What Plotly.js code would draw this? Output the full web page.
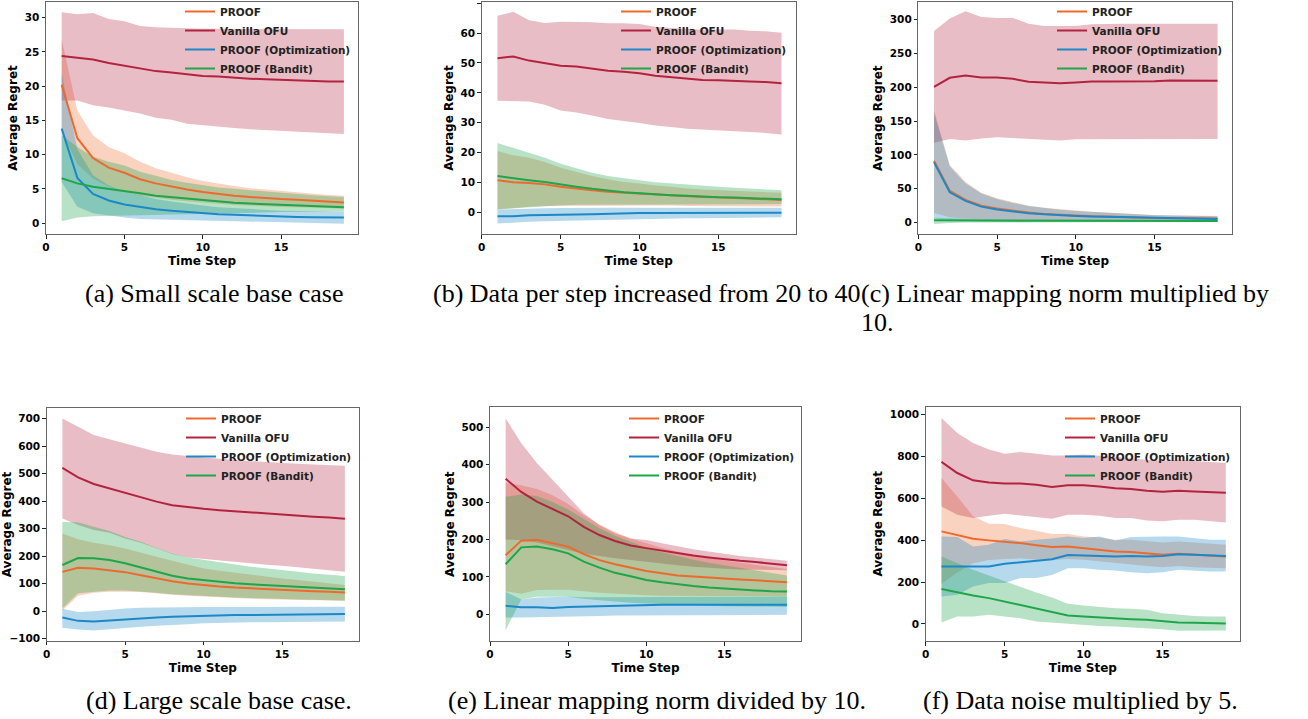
<!DOCTYPE html>
<html><head><meta charset="utf-8">
<script src="https://cdn.plot.ly/plotly-3.0.1.min.js"></script>
<style>html,body{margin:0;padding:0;background:#fff;}#chart{width:1308px;height:719px;}</style>
</head><body><div id="chart"></div>
<script>
const steps = [1,2,3,4,5,6,7,8,9,10,11,12,13,14,15,16,17,18,19];
const seriesNames = ['PROOF','Vanilla OFU','PROOF (Optimization)','PROOF (Bandit)'];
const xTicks = [0,5,10,15];

// (a) Small scale base case
const a_proof    = [20.2,12.4,9.5,8.1,7.35,6.4,5.8,5.3,4.9,4.55,4.25,4.0,3.8,3.6,3.5,3.4,3.3,3.15,3.0];
const a_proof_hi = [26.9,16.4,12.8,11.1,10.2,8.95,8.0,7.3,6.7,6.15,5.75,5.4,5.1,4.9,4.65,4.45,4.25,4.1,4.0];
const a_proof_lo = [13.5,8.6,6.5,5.3,4.6,4.0,3.7,3.4,3.2,3.0,2.8,2.65,2.55,2.4,2.35,2.3,2.3,2.2,2.1];
const a_ofu      = [24.4,24.2,23.9,23.4,23.0,22.5,22.2,22.0,21.7,21.5,21.4,21.2,21.1,21.0,20.9,20.85,20.75,20.7,20.7];
const a_ofu_hi   = [30.8,30.5,30.7,29.8,29.5,28.8,28.6,28.5,28.5,28.4,28.4,28.4,28.3,28.3,28.3,28.3,28.3,28.3,28.3];
const a_ofu_lo   = [17.9,17.9,17.2,16.9,16.5,16.0,15.4,15.1,14.5,14.4,14.1,13.9,13.7,13.5,13.4,13.3,13.2,13.1,13.0];
const a_opt      = [13.8,6.6,4.25,3.3,2.7,2.3,2.0,1.8,1.6,1.45,1.3,1.2,1.1,1.05,0.95,0.9,0.85,0.8,0.8];
const a_opt_hi   = [21.8,10.8,7.0,5.5,4.6,4.0,3.5,3.15,2.8,2.55,2.3,2.15,2.0,1.95,1.8,1.75,1.7,1.65,1.65];
const a_opt_lo   = [6.0,2.4,1.45,1.1,0.8,0.6,0.5,0.45,0.4,0.35,0.3,0.25,0.2,0.15,0.1,0.05,0.0,-0.05,-0.1];
const a_ban      = [6.55,5.8,5.3,5.0,4.75,4.35,4.0,3.8,3.5,3.3,3.15,2.95,2.85,2.75,2.6,2.5,2.4,2.35,2.3];
const a_ban_hi   = [12.8,11.1,9.7,8.95,8.4,7.5,6.9,6.3,5.9,5.55,5.2,5.0,4.8,4.6,4.35,4.2,4.05,3.9,3.8];
const a_ban_lo   = [0.25,0.8,1.0,1.05,1.1,1.15,1.2,1.25,1.3,1.35,1.4,1.45,1.5,1.55,1.6,1.6,1.65,1.7,1.7];

// (b) Data per step increased from 20 to 40
const b_proof    = [10.8,10.1,9.9,9.4,8.6,7.9,7.4,6.9,6.6,6.3,5.9,5.7,5.4,5.2,5.1,4.9,4.7,4.4,4.2];
const b_proof_hi = [20.6,19.1,18.3,16.9,15.0,13.6,12.2,11.1,10.2,9.7,9.0,8.6,8.0,7.7,7.4,7.2,7.0,6.8,6.6];
const b_proof_lo = [1.1,1.4,1.9,2.2,2.3,2.4,2.4,2.4,2.4,2.3,2.3,2.3,2.2,2.2,2.2,2.1,2.1,2.0,2.0];
const b_ofu      = [51.6,52.2,50.8,49.9,49.1,48.8,48.2,47.4,47.1,46.6,45.7,45.2,44.8,44.3,44.2,44.1,43.8,43.6,43.2];
const b_ofu_hi   = [65.8,67.1,64.3,63.4,63.8,63.8,63.6,63.3,63.3,63.0,62.1,61.7,61.3,61.1,61.2,61.2,60.8,60.6,60.1];
const b_ofu_lo   = [37.4,37.2,37.1,36.0,34.1,33.4,32.4,31.3,30.6,29.9,29.1,28.6,28.0,27.7,27.4,27.2,26.9,26.6,26.1];
const b_opt      = [-1.3,-1.3,-0.9,-0.9,-0.7,-0.7,-0.6,-0.4,-0.3,-0.2,-0.2,-0.2,-0.2,-0.2,-0.2,-0.2,-0.2,-0.2,-0.1];
const b_opt_hi   = [1.0,1.2,1.3,1.4,1.5,1.6,1.6,1.6,1.6,1.6,1.6,1.6,1.6,1.6,1.6,1.6,1.6,1.6,1.6];
const b_opt_lo   = [-3.7,-3.4,-3.1,-2.9,-2.8,-2.6,-2.4,-2.3,-2.2,-2.1,-2.0,-2.0,-1.9,-1.9,-1.8,-1.8,-1.7,-1.7,-1.6];
const b_ban      = [12.2,11.4,10.8,10.2,9.3,8.6,7.9,7.3,6.8,6.4,6.0,5.8,5.6,5.3,5.1,5.0,4.8,4.7,4.4];
const b_ban_hi   = [23.2,21.6,19.9,18.3,16.3,14.7,13.3,12.2,11.4,10.8,10.1,9.7,9.2,8.8,8.6,8.3,8.0,7.8,7.4];
const b_ban_lo   = [1.0,1.3,1.7,2.1,2.4,2.6,2.7,2.8,2.8,2.8,2.8,2.8,2.8,2.8,2.8,2.8,2.8,2.8,2.8];

// (c) Linear mapping norm multiplied by 10
const c_proof    = [91.5,46.7,33.4,25.1,20.7,17.2,14.8,12.8,11.3,10.3,9.3,8.9,7.9,7.4,6.9,6.4,6.4,5.9,5.9];
const c_proof_hi = [166,85,60,44,36,30,25,22,19.7,17.7,16.2,14.8,13.3,12.3,11.3,10.8,10.3,9.8,9.8];
const c_proof_lo = [14,8,6,5,4.5,4,3.5,3.2,3,2.8,2.6,2.5,2.4,2.3,2.2,2.1,2,2,2];
const c_ofu      = [200.7,214,217.4,214.5,214.5,212.5,208,206.6,206,207,208.5,208.5,208.5,208.5,209,210,209.5,209.5,209.5];
const c_ofu_hi   = [283.3,301.5,312.3,304,302.5,302.5,294,290.7,290.7,290.7,293,294,294,294,294,295,294,294,294];
const c_ofu_lo   = [118,123.5,121.5,124.4,126,124,123,122.5,121.5,123,123.5,123.5,123.5,123.5,123.5,123.5,123.5,123.5,123.5];
const c_opt      = [89,44.8,32,23.6,19.2,16.2,13.8,12.3,10.8,9.8,8.9,8.4,7.9,7.4,6.9,6.4,5.9,5.4,5.4];
const c_opt_hi   = [162,83,58,43,35,29,24.5,21.5,19,17.2,15.8,14.5,13,12,11,10.5,10,9.5,9.5];
const c_opt_lo   = [6,4,3.5,3,2.8,2.6,2.4,2.3,2.2,2.1,2,1.9,1.8,1.7,1.6,1.5,1.4,1.3,1.3];
const c_ban      = [3.5,3.2,3.0,2.9,2.8,2.8,2.7,2.7,2.6,2.6,2.6,2.5,2.5,2.5,2.5,2.5,2.5,2.5,2.5];
const c_ban_hi   = [7,6,5.5,5.2,5,4.8,4.7,4.6,4.5,4.4,4.3,4.3,4.2,4.2,4.1,4.1,4,4,4];
const c_ban_lo   = [-2,-0.5,0,0.3,0.5,0.6,0.7,0.8,0.8,0.8,0.8,0.9,0.9,0.9,0.9,0.9,1,1,1];

// (d) Large scale base case
const d_proof    = [143,158,155,149,142,131,119,109,101,95,90,86,83,80,77,74,73,71,68];
const d_proof_hi = [282,261,249,240,228,214,198,183,168,155,147,140,131,125,119,113,107,101,95];
const d_proof_lo = [4,56,67,71,71,70,65,60,56,53,50,48,45,44,43,42,41,39,38];
const d_ofu      = [521,486,462,446,430,413,398,385,378,372,367,363,358,353,349,346,343,340,336];
const d_ofu_hi   = [700,670,640,625,609,594,579,569,563,558,554,549,545,542,538,536,533,531,528];
const d_ofu_lo   = [337,313,295,285,264,249,228,208,195,189,183,178,174,169,165,159,155,149,143];
const d_opt      = [-23,-35,-37,-33,-29,-25,-23,-20,-18,-17,-15,-14,-14,-13,-13,-12,-12,-10,-10];
const d_opt_hi   = [9,-3,0,6,10,13,14,14,15,15,15,15,16,16,16,16,16,16,16];
const d_opt_lo   = [-60,-66,-70,-66,-61,-56,-53,-49,-47,-44,-42,-41,-40,-40,-39,-39,-38,-38,-37];
const d_ban      = [168,193,192,186,174,159,143,129,119,113,107,102,98,95,91,88,85,83,80];
const d_ban_hi   = [324,323,307,291,270,252,230,210,195,186,177,170,162,155,149,143,137,132,128];
const d_ban_lo   = [10,65,71,75,75,72,67,62,59,55,53,50,48,47,44,43,42,41,38];

// (e) Linear mapping norm divided by 10
const e_proof    = [158,197,199,191,181,161,145,134,125,116,110,104,101,98,95,93,91,89,86];
const e_proof_hi = [351,345,335,318,295,265,240,220,203,190,178,168,159,151,144,138,132,126,121];
const e_proof_lo = [62,55,65,66,66,62,58,55,53,51,50,49,48,48,48,48,48,48,48];
const e_ofu      = [362,327,301,282,262,234,212,196,184,177,170,163,157,152,147,143,140,136,131];
const e_ofu_hi   = [524,457,404,359,314,270,239,217,203,199,190,181,174,168,161,156,152,148,143];
const e_ofu_lo   = [200,198,192,183,172,162,155,150,145,140,135,131,127,124,122,120,119,118,118];
const e_opt      = [23,19,19,17,20,21,23,23,25,26,26,26,26,26,26,26,26,26,26];
const e_opt_hi   = [60,40,45,47,47,46,46,46,46,46,46,46,46,46,47,47,47,47,47];
const e_opt_lo   = [-8,-8,-9,-8,-6,-5,-4,-3,-2,-2,-1,-1,-1,-1,-1,-1,-1,-1,-1];
const e_ban      = [134,179,181,174,163,141,125,111,102,92,86,80,76,72,69,66,64,62,61];
const e_ban_hi   = [314,320,316,300,280,255,230,210,193,178,166,155,146,138,131,124,117,110,104];
const e_ban_lo   = [-42,40,47,47,47,42,38,34,31,29,27,25,24,23,22,21,20,20,20];

// (f) Data noise multiplied by 5
const f_proof    = [442,426,407,399,394,386,376,367,370,362,357,346,343,335,330,335,330,325,322];
const f_proof_hi = [697,609,514,478,477,458,445,429,429,418,413,402,402,394,389,394,389,383,378];
const f_proof_lo = [190,245,290,305,310,313,307,305,310,306,301,290,284,276,271,276,271,267,266];
const f_ofu      = [774,721,686,676,671,671,665,654,662,662,657,648,644,636,632,636,633,630,627];
const f_ofu_hi   = [984,912,864,833,813,821,813,805,805,809,804,797,793,785,780,785,778,772,769];
const f_ofu_lo   = [561,522,506,517,526,517,510,502,522,522,517,506,506,494,490,498,498,490,485];
const f_opt      = [274,274,273,274,287,295,303,309,329,327,327,322,324,322,324,333,330,327,324];
const f_opt_hi   = [418,415,370,378,405,394,402,408,418,410,418,399,415,418,418,418,410,402,402];
const f_opt_lo   = [131,139,179,195,195,219,219,234,266,266,258,255,247,242,247,258,255,250,250];
const f_ban      = [167,150,136,123,107,89,72,59,40,35,30,27,22,19,14,6,5,3,2];
const f_ban_hi   = [322,290,258,231,203,175,150,126,96,88,80,75,72,67,51,43,38,35,35];
const f_ban_lo   = [6,35,35,43,35,27,11,3,-2,-5,-10,-13,-16,-21,-26,-33,-33,-32,-32];

const captions = ['(a) Small scale base case','(b) Data per step increased from 20 to 40',
  '(c) Linear mapping norm multiplied by','10.','(d) Large scale base case.',
  '(e) Linear mapping norm divided by 10.','(f) Data noise multiplied by 5.'];

// ---------- styling / layout ----------
const W = 1308, H = 719;
const lineColors = ['#EC6A2E','#B32340','#1C88C8','#1EA64B'];
const fillColors = ['rgba(236,106,46,0.3)','rgba(179,35,64,0.3)','rgba(28,136,200,0.32)','rgba(30,166,75,0.32)'];
const bold = 'bold';
const tickFont = {family:'DejaVu Sans', size:10.5, color:'#000', weight:bold};
const titleFont = {family:'DejaVu Sans', size:12, color:'#000', weight:bold};

const panels = [
  {s:[[a_proof,a_proof_hi,a_proof_lo],[a_ofu,a_ofu_hi,a_ofu_lo],[a_opt,a_opt_hi,a_opt_lo],[a_ban,a_ban_hi,a_ban_lo]],
   yr:[-1.6,32.3], dt:5, px:[46,358], py:[2,234], lg:[180,-3]},
  {s:[[b_proof,b_proof_hi,b_proof_lo],[b_ofu,b_ofu_hi,b_ofu_lo],[b_opt,b_opt_hi,b_opt_lo],[b_ban,b_ban_hi,b_ban_lo]],
   yr:[-7.3,70.5], dt:10, px:[481.7,795.7], py:[1.7,234.3], lg:[616,-3]},
  {s:[[c_proof,c_proof_hi,c_proof_lo],[c_ofu,c_ofu_hi,c_ofu_lo],[c_opt,c_opt_hi,c_opt_lo],[c_ban,c_ban_hi,c_ban_lo]],
   yr:[-17.3,326], dt:50, px:[918.3,1231.7], py:[2,234.3], lg:[1052,-3]},
  {s:[[d_proof,d_proof_hi,d_proof_lo],[d_ofu,d_ofu_hi,d_ofu_lo],[d_opt,d_opt_hi,d_opt_lo],[d_ban,d_ban_hi,d_ban_lo]],
   yr:[-107,737], dt:100, px:[46.7,359], py:[408.3,640.7], lg:[181,404]},
  {s:[[e_proof,e_proof_hi,e_proof_lo],[e_ofu,e_ofu_hi,e_ofu_lo],[e_opt,e_opt_hi,e_opt_lo],[e_ban,e_ban_hi,e_ban_lo]],
   yr:[-71,553], dt:100, px:[490,801], py:[407.3,641], lg:[624,404]},
  {s:[[f_proof,f_proof_hi,f_proof_lo],[f_ofu,f_ofu_hi,f_ofu_lo],[f_opt,f_opt_hi,f_opt_lo],[f_ban,f_ban_hi,f_ban_lo]],
   yr:[-82,1038], dt:200, px:[925.7,1240], py:[406.7,641], lg:[1060,404]}
];

const fills = [], lines = [];
const layout = {
  width:W, height:H, paper_bgcolor:'#fff', plot_bgcolor:'#fff',
  margin:{l:0,r:0,t:0,b:0,autoexpand:false},
  annotations:[], hovermode:false
};
const stepsRev = steps.slice().reverse();
panels.forEach((p,i) => {
  const n = i+1, sx = n===1?'':String(n);
  const xa = 'x'+sx, ya = 'y'+sx, lgName = 'legend'+sx;
  p.s.forEach((trip,k) => {
    const [mean,hi,lo] = trip;
    fills.push({type:'scatter', mode:'lines', x:steps.concat(stepsRev), y:hi.concat(lo.slice().reverse()),
      fill:'toself', fillcolor:fillColors[k], line:{width:0, color:fillColors[k]},
      hoverinfo:'skip', showlegend:false, xaxis:xa, yaxis:ya});
    lines.push({type:'scatter', mode:'lines', x:steps, y:mean, name:seriesNames[k],
      line:{color:lineColors[k], width:2}, xaxis:xa, yaxis:ya, legend:lgName, showlegend:true});
  });
  const common = {showgrid:false, zeroline:false, showline:true, mirror:true, linecolor:'#666', linewidth:1,
    ticks:'outside', ticklen:3.5, tickwidth:1, tickcolor:'#222', tickfont:tickFont};
  layout['xaxis'+sx] = Object.assign({}, common, {
    domain:[p.px[0]/W, p.px[1]/W], range:[0,19.9], anchor:ya, tickvals:xTicks,
    title:{text:'Time Step', font:titleFont, standoff:4}});
  layout['yaxis'+sx] = Object.assign({}, common, {
    domain:[1-p.py[1]/H, 1-p.py[0]/H], range:p.yr, anchor:xa, dtick:p.dt, tick0:0,
    title:{text:'Average Regret', font:titleFont, standoff:4}});
  layout[lgName] = {x:p.lg[0]/W, y:1-p.lg[1]/H, xanchor:'left', yanchor:'top', bgcolor:'rgba(0,0,0,0)',
    borderwidth:0, font:{family:'DejaVu Sans', size:10.5, color:'#222', weight:bold}, traceorder:'normal'};
});

const capFont = {family:'Liberation Serif', size:26, color:'#000'};
const capPos = [[214,293,'center'],[431,293,'left'],[859,293,'left'],[859,322,'left'],
                [218.5,700,'center'],[657,700,'center'],[1080.5,700,'center']];
captions.forEach((t,i) => {
  layout.annotations.push({text:t, xref:'paper', yref:'paper', x:capPos[i][0]/W, y:1-capPos[i][1]/H,
    xanchor:capPos[i][2], yanchor:'middle', showarrow:false, font:capFont});
});

Plotly.newPlot('chart', fills.concat(lines), layout, {staticPlot:true, displayModeBar:false});
</script></body></html>
